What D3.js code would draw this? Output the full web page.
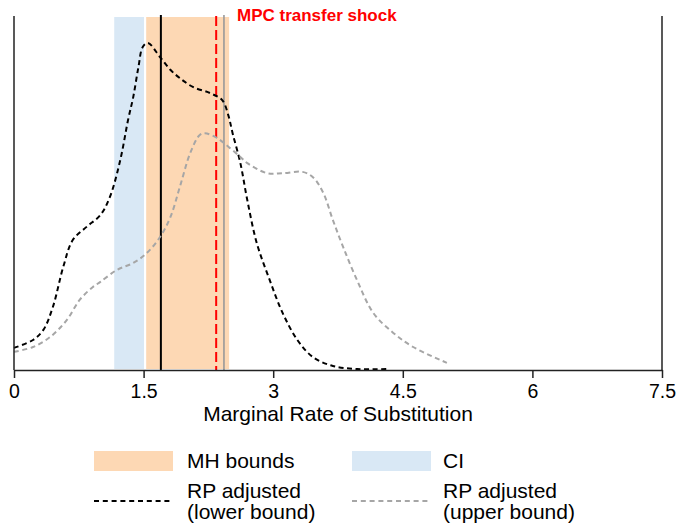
<!DOCTYPE html>
<html>
<head>
<meta charset="utf-8">
<script src="https://cdn.jsdelivr.net/npm/d3@7"></script>
<style>
  html, body { margin: 0; padding: 0; background: #fff; }
  svg { display: block; font-family: "Liberation Sans", Arial, Helvetica, sans-serif; }
</style>
</head>
<body>
<svg id="chart" width="679" height="523"></svg>
<script>
// Axis ticks
const xTicks = [0, 1.5, 3, 4.5, 6, 7.5];

// Shaded intervals (marginal rate of substitution)
const ciBand = [1.16, 1.505];
const mhBand = [1.53, 2.49];

// Reference lines
const pointEstimate = 1.70;
const mpcShock = 2.34;
const upperMark = 2.43;

// RP adjusted density, lower bound
const lowerX = [0.00, 0.22, 0.34, 0.45, 0.57, 0.68, 0.84, 1.00, 1.11, 1.23, 1.32, 1.38, 1.44, 1.49, 1.55,
                1.69, 1.81, 1.92, 2.07, 2.27, 2.41, 2.48, 2.53, 2.62, 2.70, 2.81, 2.96, 3.11, 3.28, 3.46,
                3.69, 3.97, 4.31];
const lowerY = [0.048, 0.066, 0.089, 0.141, 0.232, 0.293, 0.323, 0.350, 0.391, 0.475, 0.566, 0.618, 0.686, 0.732, 0.741,
                0.709, 0.680, 0.661, 0.641, 0.627, 0.611, 0.577, 0.536, 0.468, 0.384, 0.286, 0.202, 0.127, 0.066, 0.027,
                0.007, 0.000, 0.000];

// RP adjusted density, upper bound
const upperX = [0.00, 0.22, 0.42, 0.61, 0.76, 0.91, 1.00, 1.19, 1.38, 1.54, 1.69, 1.81, 1.92, 2.04, 2.15,
                2.21, 2.35, 2.50, 2.62, 2.70, 2.93, 3.11, 3.34, 3.46, 3.58, 3.69, 3.81, 3.97, 4.16, 4.39,
                4.62, 5.01];
const upperY = [0.039, 0.050, 0.073, 0.111, 0.157, 0.186, 0.198, 0.225, 0.241, 0.264, 0.300, 0.345, 0.414, 0.491, 0.532,
                0.536, 0.525, 0.502, 0.482, 0.468, 0.445, 0.445, 0.448, 0.436, 0.400, 0.339, 0.277, 0.202, 0.127, 0.082,
                0.050, 0.014];

const svg = d3.select("#chart");
const plotLeft = 14, plotRight = 662, plotTop = 17, plotBottom = 369, axisY = 370;

const x = d3.scaleLinear().domain([0, 7.5]).range([plotLeft, plotRight]);
const y = d3.scaleLinear().domain([0, 0.8]).range([plotBottom, plotTop]);

// Bands
const bands = [
  { range: ciBand, fill: "#d9e8f5" },
  { range: mhBand, fill: "#fdd8b4" }
];
svg.append("g").selectAll("rect").data(bands).join("rect")
  .attr("x", d => x(d.range[0]))
  .attr("width", d => x(d.range[1]) - x(d.range[0]))
  .attr("y", y(0.8))
  .attr("height", y(0) - y(0.8))
  .attr("fill", d => d.fill);

// Vertical reference lines
svg.append("line")
  .attr("x1", x(pointEstimate)).attr("x2", x(pointEstimate))
  .attr("y1", 15).attr("y2", axisY)
  .attr("stroke", "#000").attr("stroke-width", 2);
svg.append("line")
  .attr("x1", x(upperMark)).attr("x2", x(upperMark))
  .attr("y1", 15).attr("y2", axisY)
  .attr("stroke", "#999").attr("stroke-width", 1.6);
svg.append("line")
  .attr("x1", x(mpcShock)).attr("x2", x(mpcShock))
  .attr("y1", 16).attr("y2", axisY)
  .attr("stroke", "#ff0000").attr("stroke-width", 2)
  .attr("stroke-dasharray", "10,4");

svg.append("text")
  .attr("x", 237).attr("y", 21)
  .attr("fill", "#ff0000")
  .attr("font-weight", "bold")
  .attr("font-size", 17)
  .text("MPC transfer shock");

// Density curves
const line = d3.line().x(d => x(d[0])).y(d => y(d[1])).curve(d3.curveCatmullRom.alpha(0.5));
const curves = [
  { xs: lowerX, ys: lowerY, color: "#000" },
  { xs: upperX, ys: upperY, color: "#a6a6a6" }
];
svg.append("g").selectAll("path").data(curves).join("path")
  .attr("d", d => line(d.xs.map((v, i) => [v, d.ys[i]])))
  .attr("fill", "none")
  .attr("stroke", d => d.color)
  .attr("stroke-width", 2)
  .attr("stroke-dasharray", "5,3.5");

// Frame: left and right edges
svg.append("line").attr("x1", plotLeft).attr("x2", plotLeft).attr("y1", 16).attr("y2", axisY)
  .attr("stroke", "#222").attr("stroke-width", 1.5);
svg.append("line").attr("x1", plotRight).attr("x2", plotRight).attr("y1", 16).attr("y2", axisY)
  .attr("stroke", "#222").attr("stroke-width", 1.5);

// Bottom axis
const axis = svg.append("g")
  .attr("transform", `translate(0,${axisY})`)
  .call(d3.axisBottom(x).tickValues(xTicks).tickSize(8).tickSizeOuter(0).tickPadding(6.5)
        .tickFormat(d3.format("")));
axis.select(".domain").attr("stroke", "#222").attr("stroke-width", 1.5);
axis.selectAll(".tick line").attr("stroke", "#222").attr("stroke-width", 1.5);
axis.selectAll(".tick text")
  .attr("font-family", "Liberation Sans, Arial, sans-serif")
  .attr("font-size", 19.5).attr("fill", "#000");

svg.append("text")
  .attr("x", (plotLeft + plotRight) / 2).attr("y", 420.5)
  .attr("text-anchor", "middle")
  .attr("font-size", 21)
  .attr("fill", "#000")
  .text("Marginal Rate of Substitution");

// Legend
const legend = svg.append("g").attr("font-size", 21).attr("fill", "#000");
const swatches = [
  { x0: 94, fill: "#fdd8b4", label: "MH bounds", tx: 187 },
  { x0: 352, fill: "#d9e8f5", label: "CI", tx: 443 }
];
swatches.forEach(s => {
  legend.append("rect").attr("x", s.x0).attr("y", 451).attr("width", 79).attr("height", 20).attr("fill", s.fill);
  legend.append("text").attr("x", s.tx).attr("y", 467.5).text(s.label);
});
const lineKeys = [
  { x0: 94, color: "#000", tx: 187, lines: ["RP adjusted", "(lower bound)"] },
  { x0: 352, color: "#a6a6a6", tx: 443, lines: ["RP adjusted", "(upper bound)"] }
];
lineKeys.forEach(k => {
  legend.append("line").attr("x1", k.x0).attr("x2", k.x0 + 79).attr("y1", 501).attr("y2", 501)
    .attr("stroke", k.color).attr("stroke-width", 2).attr("stroke-dasharray", "5,3.8");
  const t = legend.append("text").attr("x", k.tx).attr("y", 497.5);
  k.lines.forEach((s, i) => t.append("tspan").attr("x", k.tx).attr("dy", i === 0 ? 0 : 21.5).text(s));
});
</script>
</body>
</html>
